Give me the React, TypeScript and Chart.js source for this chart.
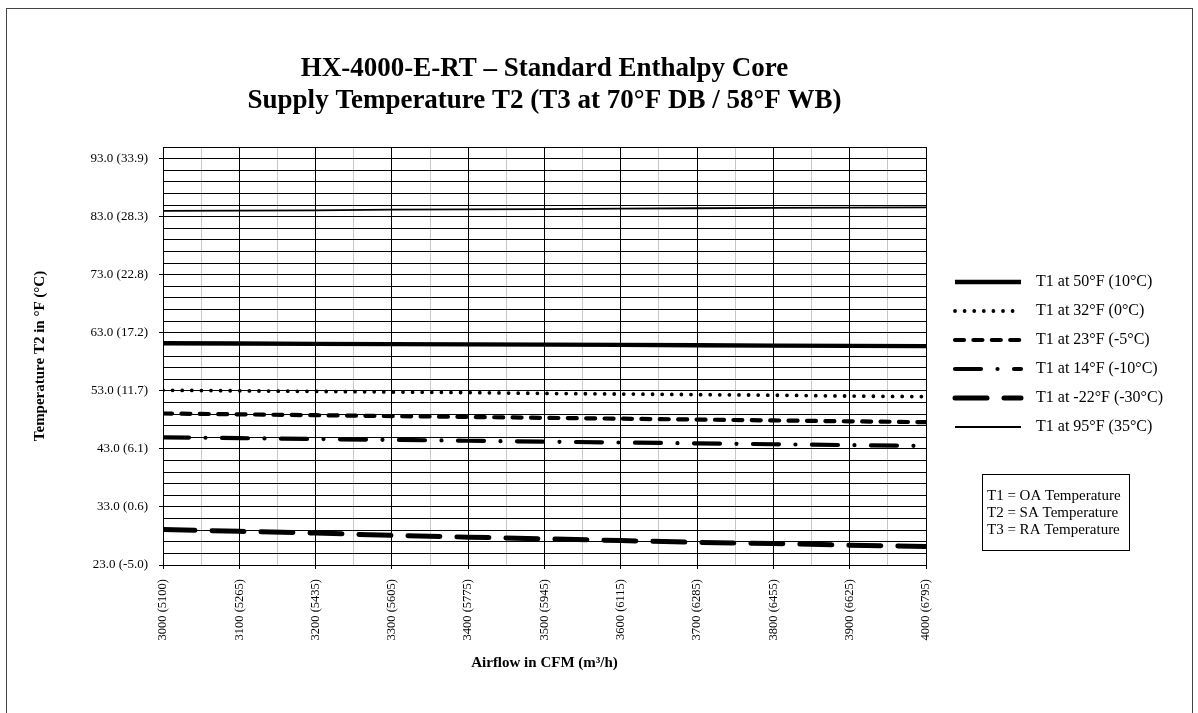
import React, { useEffect, useRef } from 'react';
import { Chart, registerables } from 'chart.js';

Chart.register(...registerables);

// ---------- data ----------
const airflowCfm = [3000, 3100, 3200, 3300, 3400, 3500, 3600, 3700, 3800, 3900, 4000];
const airflowM3h = ['5100', '5265', '5435', '5605', '5775', '5945', '6115', '6285', '6455', '6625', '6795'];

const yTickValuesF = [23, 33, 43, 53, 63, 73, 83, 93];
const yTickLabels = ['23.0 (-5.0)', '33.0 (0.6)', '43.0 (6.1)', '53.0 (11.7)', '63.0 (17.2)', '73.0 (22.8)', '83.0 (28.3)', '93.0 (33.9)'];

const seriesNames = [
  'T1 at 50°F (10°C)',
  'T1 at 32°F (0°C)',
  'T1 at 23°F (-5°C)',
  'T1 at 14°F (-10°C)',
  'T1 at -22°F (-30°C)',
  'T1 at 95°F (35°C)',
];

const t1At50F = [61.2, 61.15, 61.1, 61.05, 61.0, 60.95, 60.9, 60.85, 60.8, 60.75, 60.7];
const t1At32F = [53.1, 53.0, 52.9, 52.8, 52.7, 52.55, 52.45, 52.35, 52.25, 52.1, 52.0];
const t1At23F = [49.1, 48.95, 48.8, 48.65, 48.5, 48.35, 48.2, 48.05, 47.9, 47.75, 47.6];
const t1At14F = [45.0, 44.85, 44.7, 44.55, 44.4, 44.25, 44.1, 43.95, 43.8, 43.65, 43.5];
const t1AtMinus22F = [29.1, 28.8, 28.5, 28.1, 27.8, 27.5, 27.2, 26.9, 26.7, 26.4, 26.2];
const t1At95F = [84.0, 84.05, 84.1, 84.2, 84.25, 84.3, 84.4, 84.45, 84.5, 84.55, 84.6];

const titleLines = ['HX-4000-E-RT – Standard Enthalpy Core', 'Supply Temperature T2 (T3 at 70°F DB / 58°F WB)'];
const xAxisTitle = 'Airflow in CFM (m³/h)';
const yAxisTitle = 'Temperature T2 in °F (°C)';
const infoLines = ['T1 = OA Temperature', 'T2 = SA Temperature', 'T3 = RA Temperature'];

const FONT = '"Liberation Serif", "Times New Roman", serif';

const toPoints = (vals: number[]) => airflowCfm.map((x, i) => ({ x, y: vals[i] }));

const decorPlugin = {
  id: 'decor',
  afterDraw(chart: any) {
    const ctx = chart.ctx as CanvasRenderingContext2D;
    const area = chart.chartArea;
    ctx.save();
    // outer frame
    ctx.setLineDash([]);
    ctx.strokeStyle = '#444';
    ctx.lineWidth = 1;
    ctx.strokeRect(6.5, 8.5, 1186, 740);

    // title
    ctx.fillStyle = '#000';
    ctx.font = `bold 27px ${FONT}`;
    ctx.textAlign = 'center';
    ctx.textBaseline = 'middle';
    const cx = (area.left + area.right) / 2;
    ctx.fillText(titleLines[0], cx, 69);
    ctx.fillText(titleLines[1], cx, 101);

    // legend
    chart.data.datasets.forEach((ds: any, i: number) => {
      const y = 282 + i * 29;
      ctx.beginPath();
      ctx.setLineDash(ds.borderDash || []);
      ctx.lineCap = ds.borderCapStyle || 'butt';
      ctx.lineWidth = ds.borderWidth;
      ctx.strokeStyle = ds.borderColor;
      ctx.moveTo(955, y);
      ctx.lineTo(1021, y);
      ctx.stroke();
      ctx.setLineDash([]);
      ctx.font = `16px ${FONT}`;
      ctx.textAlign = 'left';
      ctx.textBaseline = 'middle';
      ctx.fillStyle = '#000';
      ctx.fillText(ds.label, 1036, y);
    });

    // info box
    ctx.setLineDash([]);
    ctx.lineWidth = 1;
    ctx.strokeStyle = '#000';
    ctx.strokeRect(982.5, 474.5, 147, 76);
    ctx.font = `15px ${FONT}`;
    ctx.textAlign = 'left';
    ctx.textBaseline = 'middle';
    infoLines.forEach((t, i) => ctx.fillText(t, 987, 496 + i * 16.8));
    ctx.restore();
  },
};

export default function App() {
  const canvasRef = useRef<HTMLCanvasElement | null>(null);

  useEffect(() => {
    const canvas = canvasRef.current;
    if (!canvas) return;
    const styles = [
      { data: t1At50F, width: 4.3, dash: [], cap: 'butt' },
      { data: t1At32F, width: 3.8, dash: [0, 9.6], cap: 'round' },
      { data: t1At23F, width: 4.2, dash: [9, 9.4], cap: 'round' },
      { data: t1At14F, width: 4.2, dash: [26, 16.5, 0, 16.5], cap: 'round' },
      { data: t1AtMinus22F, width: 5, dash: [32, 17], cap: 'round' },
      { data: t1At95F, width: 1.8, dash: [], cap: 'butt' },
    ];
    const chart = new Chart(canvas, {
      type: 'line',
      data: {
        datasets: styles.map((s, i) => ({
          label: seriesNames[i],
          data: toPoints(s.data),
          borderColor: '#000',
          backgroundColor: '#000',
          borderWidth: s.width,
          borderDash: s.dash,
          borderCapStyle: s.cap as any,
          pointRadius: 0,
          tension: 0,
          fill: false,
        })),
      },
      options: {
        animation: false,
        responsive: false,
        layout: { padding: { left: 0, top: 147, right: 272, bottom: 0 } },
        plugins: {
          legend: { display: false },
          title: { display: false },
          tooltip: { enabled: false },
        },
        scales: {
          x: {
            type: 'linear',
            min: 3000,
            max: 4000,
            afterFit: (scale: any) => {
              scale.height = 148;
            },
            afterBuildTicks: (scale: any) => {
              const t: any[] = [];
              for (let v = 3000; v <= 4000; v += 50) t.push({ value: v });
              scale.ticks = t;
            },
            ticks: {
              autoSkip: false,
              maxRotation: 90,
              minRotation: 90,
              padding: 10,
              color: '#000',
              font: { family: FONT, size: 12.5 },
              callback: (v: any) => {
                const i = airflowCfm.indexOf(Number(v));
                return i >= 0 ? `${airflowCfm[i]} (${airflowM3h[i]})` : '';
              },
            },
            grid: {
              color: (c: any) => (c.tick && c.tick.value % 100 === 0 ? '#000' : '#c8c8c8'),
              lineWidth: 1,
              tickLength: 4,
              tickColor: (c: any) => (c.tick && c.tick.value % 100 === 0 ? '#000' : 'rgba(0,0,0,0)'),
            },
            border: { display: true, color: '#000', width: 1 },
            title: {
              display: true,
              text: xAxisTitle,
              color: '#000',
              font: { family: FONT, size: 15, weight: 'bold' },
              padding: { top: 0, bottom: 41 },
            },
          },
          y: {
            type: 'linear',
            min: 23,
            max: 95,
            afterFit: (scale: any) => {
              scale.width = 163;
            },
            afterBuildTicks: (scale: any) => {
              const t: any[] = [];
              for (let v = 23; v <= 95; v += 2) t.push({ value: v });
              scale.ticks = t;
            },
            ticks: {
              autoSkip: false,
              padding: 11,
              color: '#000',
              font: { family: FONT, size: 13 },
              callback: (v: any) => {
                const i = yTickValuesF.indexOf(Number(v));
                return i >= 0 ? yTickLabels[i] : '';
              },
            },
            grid: {
              color: '#000',
              lineWidth: 1,
              tickLength: 4,
              tickColor: (c: any) => (c.tick && yTickValuesF.indexOf(c.tick.value) >= 0 ? '#000' : 'rgba(0,0,0,0)'),
            },
            border: { display: true, color: '#000', width: 1 },
            title: {
              display: true,
              text: yAxisTitle,
              color: '#000',
              font: { family: FONT, size: 15, weight: 'bold' },
              padding: { top: 31, bottom: 0 },
            },
          },
        },
      },
      plugins: [decorPlugin],
    } as any);
    return () => chart.destroy();
  }, []);

  return (
    <canvas
      ref={canvasRef}
      width={1198}
      height={713}
      style={{ position: 'fixed', left: 0, top: 0, display: 'block', background: '#fff' }}
    />
  );
}
